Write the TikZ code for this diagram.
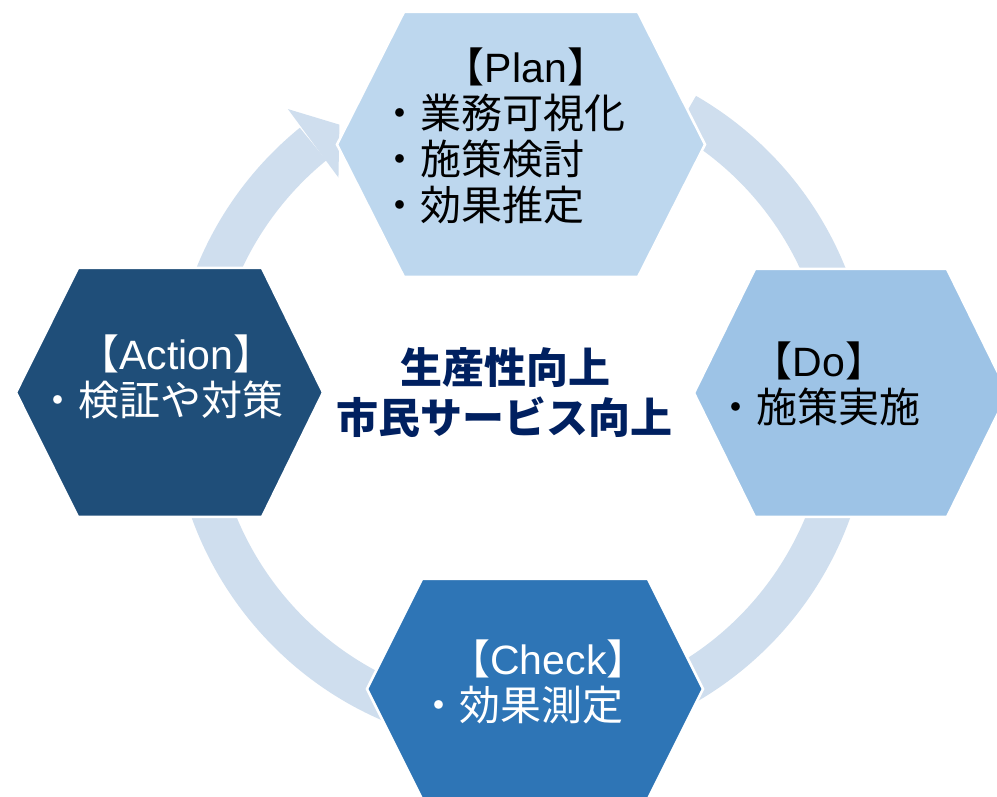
\documentclass[tikz,border=0pt]{standalone}
\usepackage{fontspec}
\setmainfont{Liberation Sans}
\newfontfamily\jp{Noto Sans CJK JP}
\definecolor{ringc}{RGB}{207,222,238}
\definecolor{planc}{RGB}{189,215,238}
\definecolor{doc}{RGB}{157,195,230}
\definecolor{checkc}{RGB}{46,117,182}
\definecolor{actc}{RGB}{31,78,121}
\definecolor{navy}{RGB}{0,32,96}
\begin{document}
\begin{tikzpicture}[x=1pt,y=1pt,
  hexa/.style={draw=white, line width=2.5pt, line join=miter},
  txt/.style={inner sep=0pt, anchor=base, font=\fontsize{41}{49}\selectfont},
  lft/.style={txt, anchor=base west},
  ctr/.style={inner sep=0pt, anchor=base, text=navy, font=\jp\bfseries\fontsize{42}{50}\selectfont}]
\clip (0,0) rectangle (997,797);
\fill[white] (0,0) rectangle (997,797);
% ring arrow
\fill[ringc, shift={(521,398)}] (129.2:350) arc[start angle=129.2, end angle=420, radius=350]
  -- (420:308) arc[start angle=420, end angle=129.2, radius=308] -- cycle;
\fill[ringc, shift={(521,398)}] (128.8:372) -- (123.5:329) -- (129.5:287) -- cycle;
% hexagons
\filldraw[hexa, fill=planc] (337,652.5) -- (404,785) -- (638,785) -- (705,652.5) -- (638,520) -- (404,520) -- cycle;
\filldraw[hexa, fill=actc] (16,404.5) -- (78,529) -- (262,529) -- (323,404.5) -- (262,280) -- (78,280) -- cycle;
\filldraw[hexa, fill=doc] (694,404) -- (755,528) -- (947,528) -- (1008,404) -- (947,280) -- (755,280) -- cycle;
\filldraw[hexa, fill=checkc] (367,108) -- (422,218) -- (648,218) -- (703,108) -- (648,-2) -- (422,-2) -- cycle;
% texts
\node[txt] (planh) at (526,714) {{\jp 【}Plan{\jp 】}};
\node[lft] (plan1) at (379.5,668) {\jp ・業務可視化};
\node[lft] (plan2) at (379.5,622) {\jp ・施策検討};
\node[lft] (plan3) at (379.5,576) {\jp ・効果推定};
\node[txt, text=white] (acth) at (176.5,427) {{\jp 【}Action{\jp 】}};
\node[lft, text=white] (act1) at (37,381) {\jp ・検証や対策};
\node[txt] (doh) at (819,420) {{\jp 【}Do{\jp 】}};
\node[lft] (do1) at (715.5,374) {\jp ・施策実施};
\node[txt, text=white] (chkh) at (548.5,122) {{\jp 【}Check{\jp 】}};
\node[lft, text=white] (chk1) at (418.5,76) {\jp ・効果測定};
\node[ctr] (c1) at (505,413) {生産性向上};
\node[ctr] (c2) at (504,363) {市民サービス向上};
\end{tikzpicture}
\end{document}
